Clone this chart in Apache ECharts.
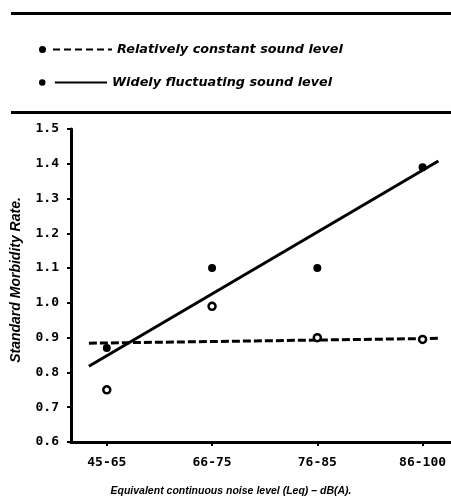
<!DOCTYPE html>
<html><head><meta charset="utf-8">
<script src="https://cdn.jsdelivr.net/npm/echarts@6/dist/echarts.min.js"></script>
<style>html,body{margin:0;padding:0;background:#fff}#c{width:451px;height:500px}</style>
</head><body><div id="c"></div>
<script>
const categories = ['45-65', '66-75', '76-85', '86-100'];
const yTicks = [0.6, 0.7, 0.8, 0.9, 1.0, 1.1, 1.2, 1.3, 1.4, 1.5];
const constantPoints = [0.75, 0.99, 0.90, 0.895];
const fluctuatingPoints = [0.87, 1.10, 1.10, 1.39];
// trend lines: [x position (category units), value]
const constantTrend = [[-0.17, 0.884], [3.15, 0.898]];
const fluctuatingTrend = [[-0.17, 0.818], [3.15, 1.408]];
const legendNames = ['Relatively constant sound level', 'Widely fluctuating sound level'];
const xTitle = 'Equivalent continuous noise level (Leq) – dB(A).';
const yTitle = 'Standard Morbidity Rate.';

const chart = echarts.init(document.getElementById('c'), null, {renderer: 'canvas'});
const legendFont = {fontFamily: 'DejaVu Sans', fontWeight: 'bold', fontStyle: 'italic', fontSize: 12.8, color: '#000'};
const tickFont = {fontFamily: 'DejaVu Sans Mono', fontWeight: 'bold', fontSize: 13, color: '#000'};

const dashIcon = 'path://M0,4a3.5,3.5 0 1,0 7,0a3.5,3.5 0 1,0 -7,0Z M14,3h7v2h-7Z M25,3h7v2h-7Z M36,3h7v2h-7Z M47,3h7v2h-7Z M58,3h7v2h-7Z M69,3h4v2h-4Z';
const solidIcon = 'path://M0,4a3.5,3.5 0 1,0 7,0a3.5,3.5 0 1,0 -7,0Z M17,3h56v2h-56Z';

chart.setOption({
  animation: false,
  backgroundColor: '#fff',
  grid: {left: 71, right: 0, top: 129, bottom: 58, containLabel: false},
  legend: [
    {data: [legendNames[0]], left: 34, top: 38, itemWidth: 73, itemHeight: 8, itemGap: 0,
     icon: dashIcon, textStyle: legendFont, selectedMode: false},
    {data: [legendNames[1]], left: 34, top: 71, itemWidth: 68, itemHeight: 8, itemGap: 0,
     icon: solidIcon, textStyle: legendFont, selectedMode: false}
  ],
  xAxis: {
    type: 'value', min: -0.34, max: 3.27,
    splitLine: {show: false},
    axisLine: {show: true, onZero: false, lineStyle: {color: '#000', width: 3}},
    axisTick: {show: true, length: 4, customValues: [0, 1, 2, 3], lineStyle: {color: '#000', width: 2}},
    axisLabel: {customValues: [0, 1, 2, 3], formatter: v => categories[Math.round(v)] || '', margin: 14, ...tickFont}
  },
  yAxis: {
    type: 'value', min: yTicks[0], max: yTicks[yTicks.length - 1], interval: 0.1,
    splitLine: {show: false},
    axisLine: {show: true, onZero: false, lineStyle: {color: '#000', width: 3}},
    axisTick: {show: true, length: 4, lineStyle: {color: '#000', width: 2}},
    axisLabel: {formatter: v => v.toFixed(1), margin: 12, ...tickFont}
  },
  graphic: [
    {type: 'rect', shape: {x: 11, y: 12, width: 440, height: 3}, style: {fill: '#000'}},
    {type: 'rect', shape: {x: 11, y: 111, width: 440, height: 3}, style: {fill: '#000'}},
    {type: 'text', x: 231, y: 491, style: {text: xTitle, align: 'center', verticalAlign: 'middle',
      font: 'italic bold 10.5px "Liberation Sans"', fill: '#000'}},
    {type: 'text', x: 16, y: 280, rotation: Math.PI / 2, style: {text: yTitle, align: 'center', verticalAlign: 'middle',
      font: 'italic bold 14px "Liberation Sans"', fill: '#000'}}
  ],
  series: [
    {name: legendNames[0], type: 'line', data: constantTrend, symbol: 'none', color: '#000',
     lineStyle: {color: '#000', width: 3, type: [8, 3]}},
    {name: legendNames[1], type: 'line', data: fluctuatingTrend, symbol: 'none', color: '#000',
     lineStyle: {color: '#000', width: 3}},
    {name: legendNames[0], type: 'scatter', data: constantPoints.map((v, i) => [i, v]), symbol: 'circle', symbolSize: 7,
     itemStyle: {color: '#fff', borderColor: '#000', borderWidth: 2.5, opacity: 1}, z: 5},
    {name: legendNames[1], type: 'scatter', data: fluctuatingPoints.map((v, i) => [i, v]), symbol: 'circle', symbolSize: 8,
     itemStyle: {color: '#000', opacity: 1}, z: 5}
  ]
});
</script></body></html>
